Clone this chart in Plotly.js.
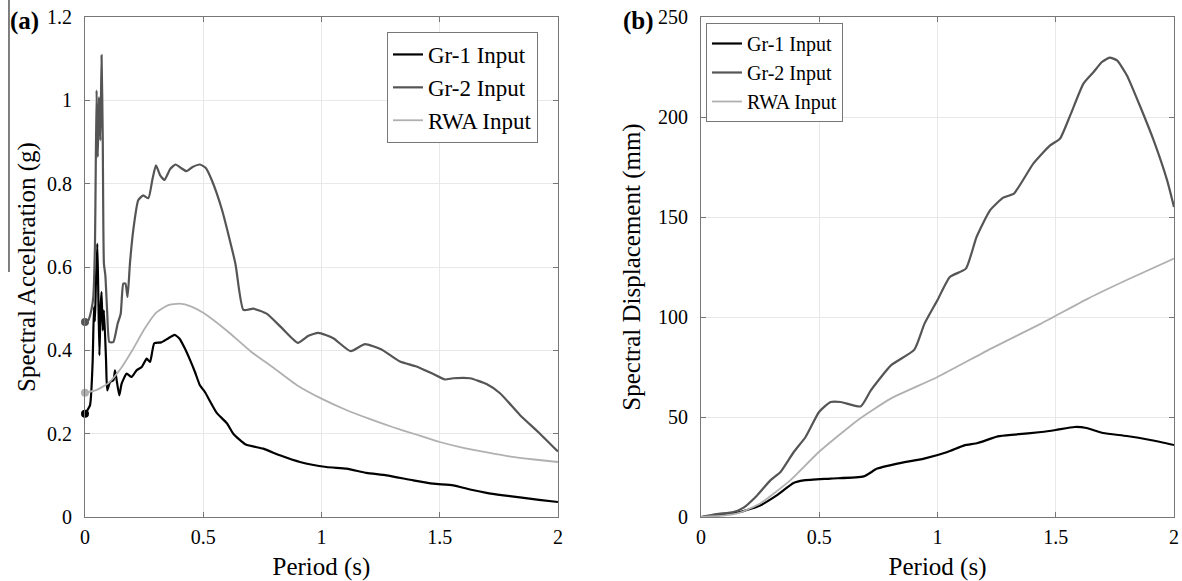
<!DOCTYPE html>
<html>
<head>
<meta charset="utf-8">
<script src="https://cdn.plot.ly/plotly-3.0.1.min.js"></script>
<style>html,body{margin:0;padding:0;background:#fff;}#chart{width:1182px;height:581px;}</style>
</head>
<body>
<div id="chart"></div>
<script>
// ---- Panel (a): spectral acceleration ----
const gr1SaPeriod = [0, 0.021, 0.032, 0.038, 0.042, 0.046, 0.052, 0.056, 0.061, 0.066, 0.070, 0.075, 0.080, 0.089, 0.094, 0.106, 0.120, 0.127, 0.134, 0.145, 0.155, 0.176, 0.197, 0.218, 0.240, 0.261, 0.275, 0.293, 0.322, 0.350, 0.379, 0.400, 0.422, 0.445, 0.465, 0.486, 0.507, 0.557, 0.600, 0.627, 0.680, 0.754, 0.824, 0.909, 1.021, 1.106, 1.190, 1.275, 1.388, 1.472, 1.557, 1.628, 1.698, 1.770, 1.839, 1.920, 2.0];
const gr1Sa = [0.248, 0.268, 0.368, 0.504, 0.47, 0.56, 0.656, 0.545, 0.388, 0.504, 0.54, 0.448, 0.496, 0.376, 0.304, 0.324, 0.328, 0.352, 0.328, 0.292, 0.32, 0.344, 0.336, 0.352, 0.36, 0.38, 0.372, 0.417, 0.419, 0.428, 0.437, 0.428, 0.405, 0.376, 0.348, 0.316, 0.30, 0.25, 0.225, 0.20, 0.174, 0.164, 0.148, 0.132, 0.12, 0.116, 0.106, 0.10, 0.088, 0.08, 0.076, 0.066, 0.058, 0.052, 0.047, 0.041, 0.036];

const gr2SaPeriod = [0, 0.014, 0.028, 0.035, 0.042, 0.049, 0.054, 0.059, 0.065, 0.070, 0.075, 0.080, 0.086, 0.094, 0.103, 0.120, 0.138, 0.151, 0.162, 0.171, 0.180, 0.190, 0.204, 0.225, 0.246, 0.268, 0.285, 0.300, 0.318, 0.336, 0.360, 0.383, 0.405, 0.429, 0.455, 0.486, 0.510, 0.535, 0.579, 0.636, 0.670, 0.712, 0.768, 0.830, 0.900, 0.945, 0.987, 1.050, 1.123, 1.184, 1.254, 1.332, 1.402, 1.473, 1.522, 1.557, 1.628, 1.698, 1.755, 1.839, 1.924, 2.0];
const gr2Sa = [0.468, 0.472, 0.50, 0.528, 0.648, 1.024, 0.864, 1.008, 0.904, 1.108, 0.912, 0.608, 0.58, 0.49, 0.42, 0.42, 0.464, 0.488, 0.56, 0.56, 0.528, 0.608, 0.688, 0.76, 0.772, 0.765, 0.81, 0.844, 0.82, 0.809, 0.835, 0.846, 0.838, 0.83, 0.84, 0.846, 0.838, 0.81, 0.738, 0.608, 0.497, 0.50, 0.488, 0.455, 0.418, 0.435, 0.442, 0.429, 0.398, 0.415, 0.402, 0.373, 0.361, 0.343, 0.33, 0.333, 0.333, 0.319, 0.297, 0.245, 0.20, 0.157];

const rwaSaPeriod = [0, 0.05, 0.1, 0.15, 0.2, 0.25, 0.3, 0.35, 0.4, 0.45, 0.5, 0.6, 0.7, 0.8, 0.9, 1.0, 1.1, 1.2, 1.3, 1.4, 1.5, 1.6, 1.7, 1.8, 1.9, 2.0];
const rwaSa = [0.298, 0.305, 0.322, 0.355, 0.40, 0.45, 0.49, 0.508, 0.512, 0.505, 0.49, 0.447, 0.398, 0.357, 0.315, 0.284, 0.258, 0.236, 0.216, 0.198, 0.18, 0.166, 0.155, 0.145, 0.138, 0.132];

// ---- Panel (b): spectral displacement ----
const gr1SdPeriod = [0, 0.094, 0.165, 0.25, 0.32, 0.391, 0.434, 0.547, 0.688, 0.745, 0.83, 0.943, 1.042, 1.113, 1.17, 1.255, 1.326, 1.439, 1.5, 1.58, 1.63, 1.7, 1.8, 1.9, 2.0];
const gr1Sd = [0, 1.2, 2.5, 5.8, 10.8, 17, 18.3, 19.2, 20.3, 24.2, 26.7, 29.2, 32.5, 35.8, 37, 40.3, 41.2, 42.5, 43.5, 45, 44.5, 42, 40.5, 38.5, 36];

const gr2SdPeriod = [0, 0.066, 0.137, 0.18, 0.237, 0.293, 0.336, 0.392, 0.442, 0.499, 0.548, 0.591, 0.675, 0.718, 0.803, 0.902, 0.945, 1.0, 1.052, 1.12, 1.165, 1.222, 1.278, 1.323, 1.405, 1.476, 1.518, 1.561, 1.617, 1.66, 1.695, 1.728, 1.759, 1.801, 1.858, 1.914, 1.971, 2.0];
const gr2Sd = [0, 1.5, 2.5, 4.7, 10.8, 18.3, 22.5, 32.5, 40, 52.5, 57.5, 57.5, 55.3, 63.3, 75.8, 83.7, 96.7, 108.5, 120, 124.2, 140, 153.3, 159.7, 161.7, 176.7, 185.8, 189.2, 200.8, 216.7, 222.5, 227.5, 229.7, 228.3, 220.8, 205, 188.3, 168.3, 155];

const rwaSdPeriod = [0, 0.1, 0.165, 0.25, 0.377, 0.498, 0.661, 0.802, 1.0, 1.226, 1.438, 1.636, 1.8, 2.0];
const rwaSd = [0, 0.8, 2.2, 6.7, 18.3, 32.5, 48.3, 59.2, 70, 84.2, 96.7, 109.2, 118.5, 129.2];

const seriesNames = ['Gr-1 Input', 'Gr-2 Input', 'RWA Input'];
const seriesColors = ['#000000', '#555555', '#b0b0b0'];

const FONT = 'Liberation Serif, Times New Roman, serif';

function line(x, y, i, xa, ya, leg) {
  return {x: x, y: y, type: 'scatter', mode: 'lines', name: seriesNames[i],
    xaxis: xa, yaxis: ya, legend: leg,
    line: {color: seriesColors[i], width: i === 2 ? 1.8 : 2.2, shape: 'spline', smoothing: 0.5}};
}
function startDot(x, y, i) {
  return {x: [x[0]], y: [y[0]], type: 'scatter', mode: 'markers', showlegend: false,
    xaxis: 'x', yaxis: 'y', hoverinfo: 'skip', cliponaxis: false,
    marker: {color: seriesColors[i], size: 8}};
}

const traces = [
  line(gr1SaPeriod, gr1Sa, 0, 'x', 'y', 'legend'),
  line(gr2SaPeriod, gr2Sa, 1, 'x', 'y', 'legend'),
  line(rwaSaPeriod, rwaSa, 2, 'x', 'y', 'legend'),
  startDot(gr1SaPeriod, gr1Sa, 0),
  startDot(gr2SaPeriod, gr2Sa, 1),
  startDot(rwaSaPeriod, rwaSa, 2),
  line(gr1SdPeriod, gr1Sd, 0, 'x2', 'y2', 'legend2'),
  line(gr2SdPeriod, gr2Sd, 1, 'x2', 'y2', 'legend2'),
  line(rwaSdPeriod, rwaSd, 2, 'x2', 'y2', 'legend2')
];

const axisCommon = {
  showline: true, linecolor: '#777', linewidth: 1, mirror: 'ticks',
  ticks: 'inside', ticklen: 5, tickcolor: '#777', tickwidth: 1,
  showgrid: true, gridcolor: '#e8e8e8', gridwidth: 1, zeroline: false,
  tickfont: {family: FONT, size: 20, color: '#000'}
};

const layout = {
  width: 1182, height: 581,
  margin: {l: 85, r: 8, t: 17, b: 64},
  paper_bgcolor: '#fff', plot_bgcolor: '#fff',
  font: {family: FONT, color: '#000'},
  xaxis: Object.assign({}, axisCommon, {domain: [0, 0.4343], range: [0, 2], tickvals: [0, 0.5, 1, 1.5, 2],
    ticklabelstandoff: 2,
    title: {text: 'Period (s)', font: {family: FONT, size: 25, color: '#000'}, standoff: 17}}),
  yaxis: Object.assign({}, axisCommon, {domain: [0, 1], range: [0, 1.2], tickvals: [0, 0.2, 0.4, 0.6, 0.8, 1, 1.2],
    ticktext: ['0', '0.2', '0.4', '0.6', '0.8', '1', '1.2'], ticklabelstandoff: 8,
    title: {text: 'Spectral Acceleration (g)', font: {family: FONT, size: 25, color: '#000'}, standoff: 4}}),
  xaxis2: Object.assign({}, axisCommon, {domain: [0.5657, 1], anchor: 'y2', range: [0, 2], tickvals: [0, 0.5, 1, 1.5, 2],
    ticklabelstandoff: 2,
    title: {text: 'Period (s)', font: {family: FONT, size: 25, color: '#000'}, standoff: 17}}),
  yaxis2: Object.assign({}, axisCommon, {domain: [0, 1], anchor: 'x2', range: [0, 250], tickvals: [0, 50, 100, 150, 200, 250],
    ticklabelstandoff: 8,
    title: {text: 'Spectral Displacement (mm)', font: {family: FONT, size: 25, color: '#000'}, standoff: 10}}),
  legend: {x: 0.2773, y: 0.97, xanchor: 'left', yanchor: 'top', bgcolor: '#fff',
    bordercolor: '#777', borderwidth: 1, font: {family: FONT, size: 23, color: '#000'}, itemwidth: 30},
  legend2: {x: 0.5702, y: 0.988, xanchor: 'left', yanchor: 'top', bgcolor: '#fff',
    bordercolor: '#777', borderwidth: 1, font: {family: FONT, size: 20, color: '#000'}, itemwidth: 30},
  showlegend: true,
  annotations: [
    {text: '<b>(a)</b>', xref: 'paper', yref: 'paper', x: -0.0707, y: 0.992, xanchor: 'left', yanchor: 'middle',
      showarrow: false, font: {family: FONT, size: 25, color: '#000'}},
    {text: '<b>(b)</b>', xref: 'paper', yref: 'paper', x: 0.4919, y: 0.9926, xanchor: 'left', yanchor: 'middle',
      showarrow: false, font: {family: FONT, size: 25, color: '#000'}}
  ],
  shapes: [
    {type: 'line', xref: 'paper', yref: 'paper', x0: -0.0698, x1: -0.0698, y0: 1.034, y1: 0.49,
      line: {color: '#000', width: 1}}
  ]
};

Plotly.newPlot('chart', traces, layout, {displayModeBar: false, staticPlot: true});
</script>
</body>
</html>
